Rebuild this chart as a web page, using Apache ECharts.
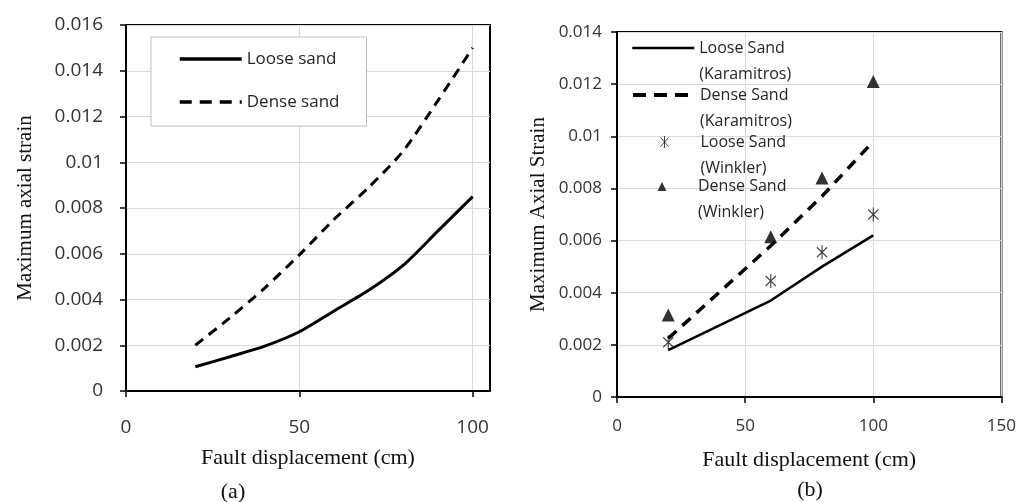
<!DOCTYPE html>
<html>
<head>
<meta charset="utf-8">
<script src="https://cdn.jsdelivr.net/npm/echarts@6/dist/echarts.min.js"></script>
<style>
  html, body { margin: 0; padding: 0; background: #fff; }
  #main { width: 1019px; height: 502px; }
</style>
</head>
<body>
<div id="main"></div>
<script>
// (a) Karamitros curves
const dispA = [20, 30, 40, 50, 60, 70, 80, 90, 100]
const looseA = [0.00106, 0.0015, 0.00196, 0.00259, 0.0035, 0.0044, 0.0055, 0.007, 0.0085]
const denseA = [0.002, 0.0032, 0.0045, 0.00595, 0.0075, 0.0089, 0.0105, 0.0127, 0.015]
const namesA = ['Loose sand', 'Dense sand']

// (b) Karamitros vs Winkler
const dispB = [20, 60, 80, 100]
const looseKarB = [0.0018, 0.0037, 0.005, 0.0062]
const denseKarB = [0.00225, 0.0058, 0.0077, 0.0098]
const looseWinB = [0.0021, 0.00445, 0.00555, 0.007]
const denseWinB = [0.00315, 0.00615, 0.0084, 0.0121]
const namesB = ['Loose Sand\n(Karamitros)', 'Dense Sand\n(Karamitros)', 'Loose Sand\n(Winkler)', 'Dense Sand\n(Winkler)']

const xTicksA = [0, 50, 100]
const xTicksB = [0, 50, 100, 150]

const sans = '"Open Sans", "Noto Sans", sans-serif'
const serif = '"Liberation Serif", "DejaVu Serif", serif'
const asterisk = 'path://M6,0L6,14M0,2L12,12M0,12L12,2'
// legend icons: the leading moves stretch the box to 62x12 so the mark keeps its size
const asteriskIcon = 'path://M0,0M62,12M31,0L31,12M27,1.5L35,10.5M27,10.5L35,1.5'
const triangleIcon = 'path://M0,0M62,12M26.5,11L31,2L35.5,11Z'

function pairs (xs, ys) {
  return xs.map((x, i) => [x, ys[i]])
}

function yAxisOpt (grid, max, gap, labelSize, labelMargin, name) {
  return {
    type: 'value', gridIndex: grid, min: 0, max: max, interval: 0.002,
    name: name, nameLocation: 'middle', nameGap: gap,
    nameTextStyle: { fontFamily: serif, fontSize: 21, color: '#111' },
    axisLine: { show: true, lineStyle: { color: '#000', width: 2 } },
    axisTick: { show: true, length: 6, lineStyle: { color: '#000', width: 1.5 } },
    axisLabel: { margin: labelMargin, fontFamily: sans, fontSize: labelSize, color: '#333' },
    splitLine: { lineStyle: { color: '#d9d9d9', width: 1 } }
  }
}

function xAxisOpt (grid, max, ticks, gap, labelSize, labelMargin) {
  return {
    type: 'value', gridIndex: grid, min: 0, max: max, interval: 50,
    name: 'Fault displacement (cm)', nameLocation: 'middle', nameGap: gap,
    nameTextStyle: { fontFamily: serif, fontSize: 22, color: '#111' },
    axisLine: { show: true, onZero: false, lineStyle: { color: '#000', width: 2 } },
    axisTick: { show: true, length: 6, customValues: ticks, lineStyle: { color: '#000', width: 1.5 } },
    axisLabel: { margin: labelMargin, customValues: ticks, fontFamily: sans, fontSize: labelSize, color: '#333' },
    splitLine: { lineStyle: { color: '#d9d9d9', width: 1 } }
  }
}

// one legend per (b) entry; a blank first line makes the label hang below the icon
const legendTopsB = [48, 95, 142, 186]
const legendItemsB = [
  { name: namesB[0], itemStyle: { opacity: 0 }, lineStyle: { width: 2.5 } },
  { name: namesB[1], itemStyle: { opacity: 0 }, lineStyle: { width: 4, type: [13, 8] } },
  { name: namesB[2], icon: asteriskIcon, itemStyle: { color: 'none', borderColor: '#111', borderWidth: 1 } },
  { name: namesB[3], icon: triangleIcon, itemStyle: { color: '#000' } }
]
const legendsB = legendItemsB.map((item, i) => ({
  data: [item],
  left: 631,
  top: legendTopsB[i] - 39,
  padding: 0,
  itemWidth: 62,
  itemHeight: i < 2 ? 14 : 12,
  formatter: name => ' \n' + name,
  textStyle: { fontFamily: sans, fontSize: 16, color: '#262626', lineHeight: 26 }
}))

let chart = echarts.init(document.getElementById('main'))
chart.setOption({
  animation: false,
  backgroundColor: '#fff',
  grid: [
    { left: 126, top: 25, width: 364, height: 366, show: true, borderColor: '#000', borderWidth: 2 },
    { left: 617, top: 32, width: 386, height: 365, show: true, borderColor: '#000', borderWidth: 2 }
  ],
  xAxis: [
    xAxisOpt(0, 105, xTicksA, 56, 19, 27),
    xAxisOpt(1, 150, xTicksB, 52, 17, 21)
  ],
  yAxis: [
    yAxisOpt(0, 0.016, 90, 19, 23, 'Maximum axial strain'),
    yAxisOpt(1, 0.014, 68, 17, 15, 'Maximum Axial Strain')
  ],
  legend: [{
    data: [
      { name: namesA[0], itemStyle: { opacity: 0 }, lineStyle: { width: 3.5 } },
      { name: namesA[1], itemStyle: { opacity: 0 }, lineStyle: { width: 3.5, type: [12, 8] } }
    ],
    orient: 'vertical',
    left: 151, top: 37,
    padding: [11, 27, 13, 27],
    itemGap: 21,
    itemWidth: 62, itemHeight: 14,
    backgroundColor: '#fff',
    borderColor: '#bfbfbf', borderWidth: 1,
    textStyle: { fontFamily: sans, fontSize: 17, color: '#262626', lineHeight: 22 }
  }].concat(legendsB),
  graphic: [
    { type: 'text', x: 233, y: 492, style: { text: '(a)', font: '22px ' + serif, fill: '#111', align: 'center', verticalAlign: 'middle' } },
    { type: 'text', x: 810, y: 490, style: { text: '(b)', font: '22px ' + serif, fill: '#111', align: 'center', verticalAlign: 'middle' } }
  ],
  series: [
    {
      name: namesA[0], type: 'line', xAxisIndex: 0, yAxisIndex: 0,
      data: pairs(dispA, looseA), smooth: 0.25, symbol: 'none',
      lineStyle: { color: '#000', width: 3 }, itemStyle: { color: '#000' }
    },
    {
      name: namesA[1], type: 'line', xAxisIndex: 0, yAxisIndex: 0,
      data: pairs(dispA, denseA), smooth: 0.25, symbol: 'none',
      lineStyle: { color: '#000', width: 3, type: [10, 7] }, itemStyle: { color: '#000' }
    },
    {
      name: namesB[0], type: 'line', xAxisIndex: 1, yAxisIndex: 1,
      data: pairs(dispB, looseKarB), symbol: 'none',
      lineStyle: { color: '#000', width: 2.5 }, itemStyle: { color: '#000' }
    },
    {
      name: namesB[1], type: 'line', xAxisIndex: 1, yAxisIndex: 1,
      data: pairs(dispB, denseKarB), symbol: 'none',
      lineStyle: { color: '#000', width: 3.5, type: [11, 8] }, itemStyle: { color: '#000' }
    },
    {
      name: namesB[2], type: 'scatter', xAxisIndex: 1, yAxisIndex: 1,
      data: pairs(dispB, looseWinB), symbol: asterisk, symbolSize: [12, 14], symbolKeepAspect: true,
      itemStyle: { color: '#000', borderColor: '#111', borderWidth: 1.2 }
    },
    {
      name: namesB[3], type: 'scatter', xAxisIndex: 1, yAxisIndex: 1,
      data: pairs(dispB, denseWinB), symbol: 'triangle', symbolSize: 13, symbolKeepAspect: true,
      itemStyle: { color: '#000' }
    }
  ]
})
</script>
</body>
</html>
